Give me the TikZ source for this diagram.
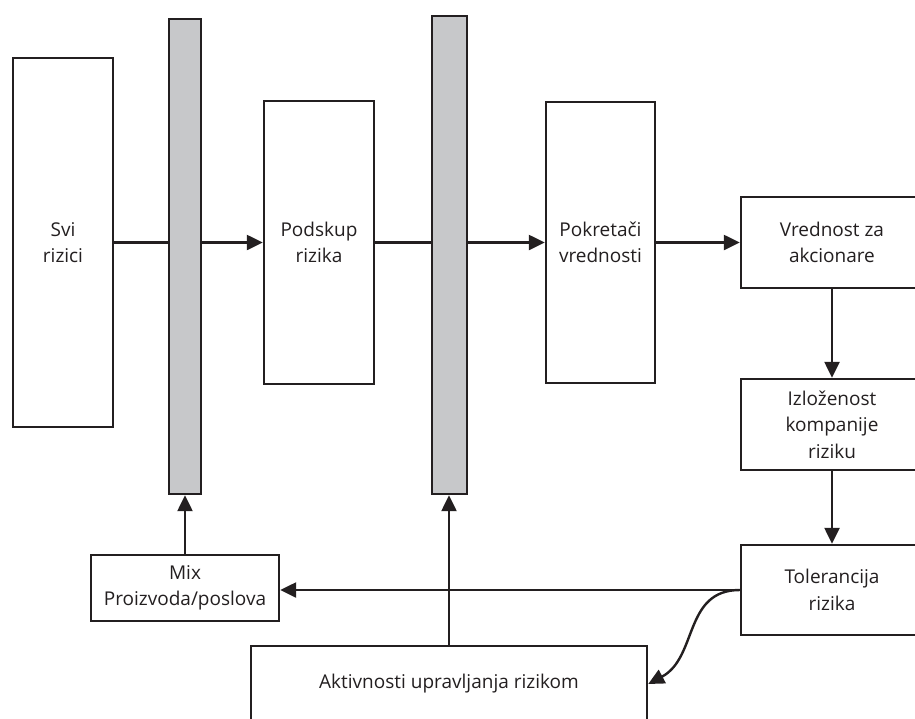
\documentclass[tikz,border=0pt]{standalone}
\usepackage{fontspec}
\setmainfont{Open Sans}
\usetikzlibrary{arrows.meta}
\definecolor{ink}{HTML}{231F20}
\definecolor{barfill}{HTML}{C7C8CA}
\begin{document}
\begin{tikzpicture}[x=1pt,y=-1pt,
  box/.style={draw=ink, line width=2.4pt, fill=white, rectangle, inner sep=0pt,
    align=center, text=ink, font=\fontsize{19}{26.5}\selectfont},
  bar/.style={draw=ink, line width=2.4pt, fill=barfill, rectangle, inner sep=0pt},
  link/.style={draw=ink, line width=2.4pt},
  arr/.style={link, -{Triangle[length=16pt,width=15pt]}}]
\useasboundingbox (0,0) rectangle (915,718);
\clip (0,0) rectangle (915,718);

% main chain of boxes and the two filter bars
\node[box, minimum width=100pt, minimum height=369pt] (svi) at (63,242.5) {Svi\\rizici};
\node[bar, minimum width=32pt, minimum height=475pt] (bar1) at (185,256.5) {};
\node[box, minimum width=110pt, minimum height=283pt] (pod) at (319,242.5) {Podskup\\rizika};
\node[bar, minimum width=35pt, minimum height=478pt] (bar2) at (449.5,255) {};
\node[box, minimum width=109pt, minimum height=281pt] (pok) at (600.5,242.5) {Pokretači\\vrednosti};

% right-hand column
\node[box, minimum width=182pt, minimum height=91pt] (vred) at (832,242.5) {Vrednost za\\akcionare};
\node[box, minimum width=182pt, minimum height=91pt] (izl) at (832,424.5) {Izloženost\\kompanije\\riziku};
\node[box, minimum width=182pt, minimum height=90pt] (tol) at (832,590) {Tolerancija\\rizika};

% feedback boxes
\node[box, minimum width=188pt, minimum height=66pt] (mix) at (185,588) {Mix\\Proizvoda/poslova};
\node[box, minimum width=396pt, minimum height=76pt] (akt) at (449,684) {Aktivnosti upravljanja rizikom};

% forward flow
\draw[link] (svi.east) -- (svi.east -| bar1.west);
\draw[arr] (bar1.east |- pod.west) -- (pod.west);
\draw[link] (pod.east) -- (pod.east -| bar2.west);
\draw[arr] (bar2.east |- pok.west) -- (pok.west);
\draw[arr] (pok.east) -- (vred.west);
\draw[arr] (vred.south) -- (izl.north);
\draw[arr] (izl.south) -- (tol.north);

% feedback flow
\draw[arr] (tol.west) -- (tol.west -| mix.east);
\draw[arr] (mix.north) -- (bar1.south);
\draw[arr] (akt.north) -- (akt.north |- bar2.south);
\draw[arr] (tol.west) to[out=180, in=28, looseness=1.1] (akt.east);
\end{tikzpicture}
\end{document}
